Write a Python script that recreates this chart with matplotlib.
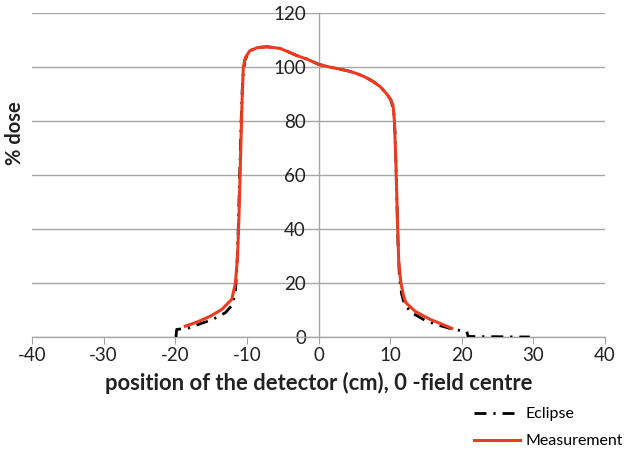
import matplotlib
matplotlib.use("Agg")
import matplotlib.pyplot as plt
from matplotlib.lines import Line2D

plt.rcParams['font.family'] = ['Lato', 'DejaVu Sans']

# Measurement profile (position cm, % dose)
x_meas = [-18.6, -17.0, -15.1, -13.5, -12.1, -11.6, -11.3, -11.1, -10.9, -10.7, -10.5,
          -10.2, -9.6, -8.5, -7.2, -5.4, -4.2, -3.0, -1.5, 0.0, 1.5, 3.0, 4.2, 5.3,
          6.5, 7.7, 8.7, 9.5, 10.1, 10.4, 10.6, 10.8, 11.0, 11.2, 11.5, 11.9, 12.2,
          13.5, 15.6, 17.2, 18.6]
y_meas = [4.0, 5.5, 7.7, 10.2, 14.0, 20.0, 30.0, 45.0, 65.0, 85.0, 100.0,
          103.5, 106.0, 107.2, 107.5, 106.9, 105.6, 104.2, 102.8, 101.0, 100.0, 99.2, 98.5, 97.6,
          96.3, 94.5, 92.5, 90.1, 87.8, 85.8, 80.0, 65.0, 45.0, 28.0, 20.0, 15.0, 12.7,
          9.5, 6.5, 4.8, 3.2]

# Eclipse calculated profile
x_ecl = [-19.9, -19.8, -18.2, -16.2, -15.0, -13.0, -12.0, -11.6, -11.4, -11.2, -11.0,
         -10.8, -10.6, -10.3, -9.6, -8.5, -7.2, -5.4, -4.2, -3.0, -1.5, 0.0, 1.5, 3.0,
         4.2, 5.3, 6.5, 7.7, 8.7, 9.5, 10.1, 10.5, 10.7, 10.9, 11.1, 11.3, 11.6, 12.0,
         13.0, 15.0, 17.0, 18.6, 20.0, 20.7, 20.9, 29.5]
y_ecl = [0.0, 2.8, 3.3, 5.2, 6.2, 9.0, 12.0, 17.0, 25.0, 40.0, 60.0,
         80.0, 95.0, 102.5, 106.0, 107.2, 107.5, 106.9, 105.6, 104.2, 102.8, 101.0, 100.0, 99.2,
         98.5, 97.6, 96.3, 94.5, 92.5, 90.1, 87.8, 84.0, 75.0, 55.0, 35.0, 22.0, 16.0, 12.0,
         9.0, 6.0, 4.2, 3.0, 2.3, 2.0, 0.2, 0.0]

x_ticks = [-40, -30, -20, -10, 0, 10, 20, 30, 40]
y_ticks = [0, 20, 40, 60, 80, 100, 120]

grid_c = '#A6A6A6'
red = '#EE3B1F'
dashdot = (0, (4.3, 2.5, 0.8, 2.5))

fig = plt.figure(figsize=(6.33, 4.5), dpi=100)
ax = fig.add_axes([32/633, 1-337/450, (605-32)/633, (337-13)/450])

ax.plot(x_ecl, y_ecl, color='black', lw=2.0, linestyle=dashdot,
        label='Eclipse', zorder=3)
ax.plot(x_meas, y_meas, color=red, lw=2.2, label='Measurement', zorder=4)

ax.set_xlim(-40, 40)
ax.set_ylim(0, 120)
ax.set_xticks(x_ticks)
ax.set_yticks(y_ticks)
ax.set_xticklabels([str(v) for v in x_ticks])
ax.set_yticklabels([str(v) for v in y_ticks])

ax.yaxis.grid(True, color=grid_c, lw=1.0)
ax.xaxis.grid(False)
ax.set_axisbelow(True)

for s in ['top', 'right']:
    ax.spines[s].set_visible(False)
ax.spines['left'].set_position(('data', 0))
ax.spines['left'].set_color(grid_c)
ax.spines['bottom'].set_color(grid_c)
ax.spines['left'].set_linewidth(1.0)
ax.spines['bottom'].set_linewidth(1.0)

ax.tick_params(axis='x', direction='out', length=5, color=grid_c, labelsize=13.5,
               labelcolor='#222222', pad=2)
ax.tick_params(axis='y', direction='out', length=0, labelsize=13.5,
               labelcolor='#222222', pad=9)

ax.set_xlabel('position of the detector (cm), 0 -field centre', fontsize=15.8,
              fontweight='bold', color='#222222', labelpad=6)
fig.text(15/633, 1-133/450, '% dose', rotation=90, fontsize=14.5, fontweight='bold',
         color='#222222', ha='center', va='center')

handles = [Line2D([], [], color='black', lw=2.0, linestyle=dashdot),
           Line2D([], [], color=red, lw=2.2)]
fig.legend(handles, ['Eclipse', 'Measurement'], loc='upper left',
           bbox_to_anchor=(474/633, 1-407/450), frameon=False, fontsize=11.5,
           handlelength=2.9, handleheight=0.7, labelspacing=0.8, handletextpad=0.35,
           borderpad=0, borderaxespad=0)

fig.savefig('out.png', dpi=100)
